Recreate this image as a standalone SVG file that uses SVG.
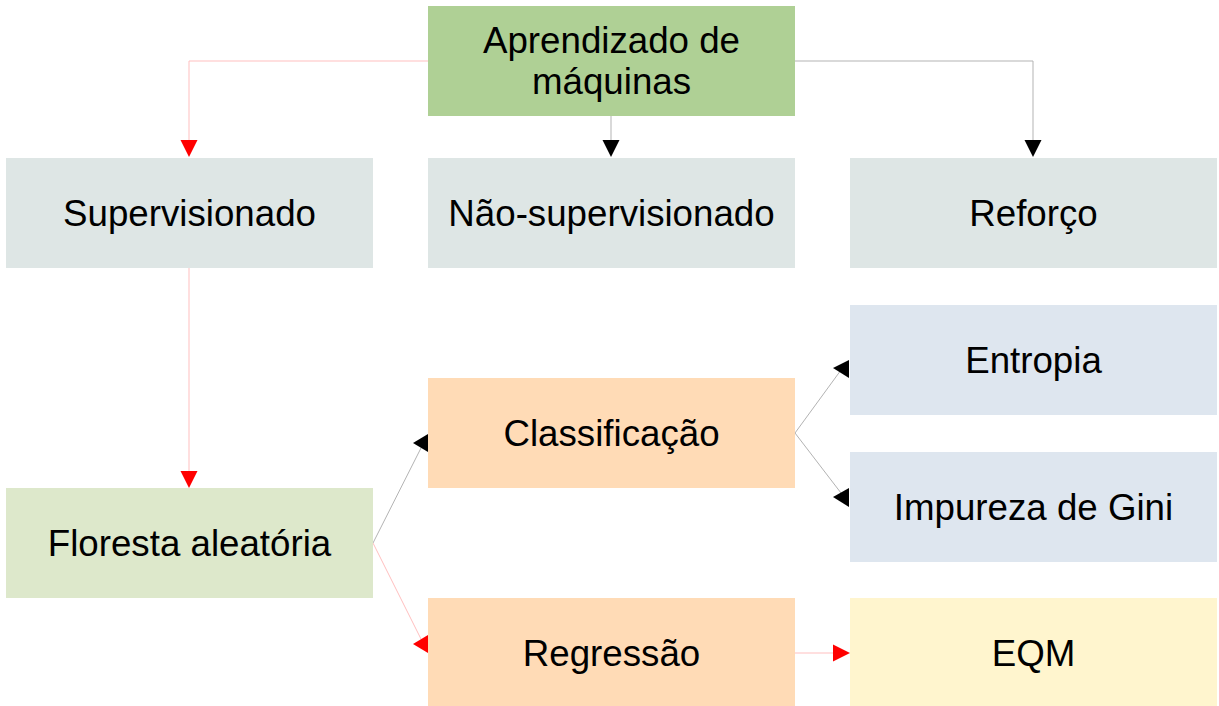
<svg xmlns="http://www.w3.org/2000/svg" width="1219" height="706" viewBox="0 0 1219 706">
<style>
text{font-family:"Liberation Sans",Arial,sans-serif;font-size:36.7px;fill:#000;text-anchor:middle}
.g{stroke:#b3b3b3;stroke-width:1;fill:none}
.p{stroke:#ffbfbf;stroke-width:1;fill:none}
.hb{fill:#000}
.hr{fill:#ff0000}
</style>
<rect width="1219" height="706" fill="#fff"/>
<g id="connectors">
<path class="p" d="M428,61 H189 V141"/>
<polygon class="hr" points="180.5,140 197.5,140 189,157"/>
<path class="g" d="M611,116 V141"/>
<polygon class="hb" points="602.5,140 619.5,140 611,157"/>
<path class="g" d="M795,61 H1033 V141"/>
<polygon class="hb" points="1024.5,140 1041.5,140 1033,157"/>
<path class="p" d="M189,268 V472"/>
<polygon class="hr" points="180.5,471 197.5,471 189,488"/>
<path class="g" d="M373,543 L421,448"/>
<polygon class="hb" points="428,434 428,452 413,443"/>
<path class="p" d="M373,543 L421,639"/>
<polygon class="hr" points="428,635 428,653 413,644"/>
<path class="g" d="M795,433 L841,370"/>
<polygon class="hb" points="849,360 849,378 833,368"/>
<path class="g" d="M795,433 L841,493"/>
<polygon class="hb" points="849,488 849,507 833,497"/>
<path class="p" d="M795,653 H834"/>
<polygon class="hr" points="833,644.5 833,661.5 850,653"/>
</g>
<g id="n-ml"><rect x="428" y="6" width="367" height="110" fill="#afd095"/><text x="611.5" y="53">Aprendizado de</text><text x="611.5" y="94">máquinas</text></g>
<g id="n-sup"><rect x="6" y="158" width="367" height="110" fill="#dee6e5"/><text x="189.5" y="225.5">Supervisionado</text></g>
<g id="n-nsup"><rect x="428" y="158" width="367" height="110" fill="#dee6e5"/><text x="611.5" y="225.5">Não-supervisionado</text></g>
<g id="n-ref"><rect x="850" y="158" width="367" height="110" fill="#dee6e5"/><text x="1033.5" y="225.5">Reforço</text></g>
<g id="n-ent"><rect x="850" y="305" width="367" height="110" fill="#dee6ef"/><text x="1033.5" y="372.5">Entropia</text></g>
<g id="n-cla"><rect x="428" y="378" width="367" height="110" fill="#ffdbb6"/><text x="611.5" y="445.5">Classificação</text></g>
<g id="n-gini"><rect x="850" y="452" width="367" height="110" fill="#dee6ef"/><text x="1033.5" y="520">Impureza de Gini</text></g>
<g id="n-flo"><rect x="6" y="488" width="367" height="110" fill="#dde8cb"/><text x="189.5" y="555.5">Floresta aleatória</text></g>
<g id="n-reg"><rect x="428" y="598" width="367" height="110" fill="#ffdbb6"/><text x="611.5" y="666">Regressão</text></g>
<g id="n-eqm"><rect x="850" y="598" width="367" height="110" fill="#fff5ce"/><text x="1033.5" y="666">EQM</text></g>
</svg>
